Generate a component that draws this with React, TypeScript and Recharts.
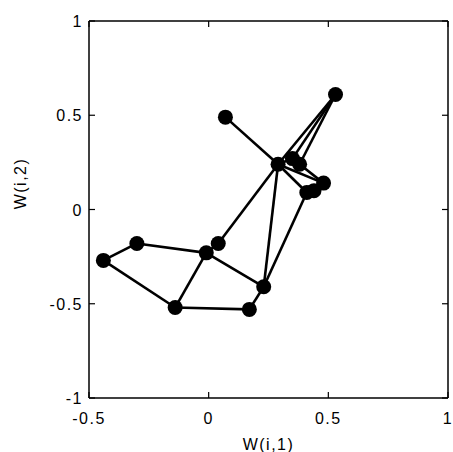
import { ScatterChart, Scatter, XAxis, YAxis, Label } from 'recharts';

// node coordinates W(i,1), W(i,2)
const nodeX = [0.53, 0.07, 0.29, 0.35, 0.38, 0.48, 0.41, 0.44, 0.04, -0.01, -0.3, -0.44, -0.14, 0.17, 0.23];
const nodeY = [0.61, 0.49, 0.24, 0.27, 0.24, 0.14, 0.09, 0.1, -0.18, -0.23, -0.18, -0.27, -0.52, -0.53, -0.41];

// edges as pairs of node indices
const edges = [
    [2, 1], [2, 0], [3, 0], [4, 0], [2, 3], [3, 4], [2, 5], [2, 6], [5, 6], [4, 5],
    [2, 8], [8, 9], [2, 14], [6, 14], [9, 14], [9, 10], [10, 11], [11, 12], [12, 9],
    [12, 13], [13, 14], [5, 7], [6, 7],
];

const xTicks = [-0.5, 0, 0.5, 1];
const yTicks = [-1, -0.5, 0, 0.5, 1];

const nodes = nodeX.map((x, i) => ({ x, y: nodeY[i] }));

const font = { fontFamily: 'Liberation Sans, Arial, sans-serif', fontSize: 16, letterSpacing: 1.5 };

const BottomTick = (props: any) => {
    const { x, y, payload } = props;
    return (
        <g>
            <line x1={x} y1={y} x2={x} y2={y - 6} stroke="#000" strokeWidth={1.2} />
            <text x={x} y={y + 26} textAnchor="middle" fill="#000" style={font}>
                {payload.value}
            </text>
        </g>
    );
};

const LeftTick = (props: any) => {
    const { x, y, payload } = props;
    return (
        <g>
            <line x1={x} y1={y} x2={x + 6} y2={y} stroke="#000" strokeWidth={1.2} />
            <text x={x - 6} y={y + 6} textAnchor="end" fill="#000" style={font}>
                {payload.value}
            </text>
        </g>
    );
};

const TopTick = (props: any) => {
    const { x, y } = props;
    return <line x1={x} y1={y} x2={x} y2={y + 6} stroke="#000" strokeWidth={1.2} />;
};

const RightTick = (props: any) => {
    const { x, y } = props;
    return <line x1={x} y1={y} x2={x - 6} y2={y} stroke="#000" strokeWidth={1.2} />;
};

const Dot = (props: any) => <circle cx={props.cx} cy={props.cy} r={7.5} fill="#000" />;
const NoDot = () => <g />;

export default function App() {
    return (
        <div style={{ position: 'absolute', left: 0, top: 0, background: '#fff' }}>
            <ScatterChart width={453} height={452} margin={{ top: 20, right: 4, bottom: 0, left: 0 }}>
                <XAxis
                    xAxisId="b"
                    type="number"
                    dataKey="x"
                    domain={[-0.5, 1]}
                    ticks={xTicks}
                    height={54}
                    tickSize={0}
                    tickMargin={0}
                    tick={<BottomTick />}
                    axisLine={{ stroke: '#000', strokeWidth: 1.5 }}
                    tickLine={false}
                    allowDataOverflow
                >
                    <Label value="W(i,1)" position="insideBottom" offset={2} fill="#000" style={font} />
                </XAxis>
                <XAxis
                    xAxisId="t"
                    orientation="top"
                    type="number"
                    dataKey="x"
                    domain={[-0.5, 1]}
                    ticks={xTicks}
                    height={1}
                    tickSize={0}
                    tickMargin={0}
                    tick={<TopTick />}
                    axisLine={{ stroke: '#000', strokeWidth: 1.5 }}
                    tickLine={false}
                    allowDataOverflow
                />
                <YAxis
                    yAxisId="l"
                    type="number"
                    dataKey="y"
                    domain={[-1, 1]}
                    ticks={yTicks}
                    width={89}
                    tickSize={0}
                    tickMargin={0}
                    tick={<LeftTick />}
                    axisLine={{ stroke: '#000', strokeWidth: 1.5 }}
                    tickLine={false}
                    allowDataOverflow
                >
                    <Label value="W(i,2)" angle={-90} position="insideLeft" offset={20} dy={-26} fill="#000" style={{ ...font, textAnchor: 'middle' }} />
                </YAxis>
                <YAxis
                    yAxisId="r"
                    orientation="right"
                    type="number"
                    dataKey="y"
                    domain={[-1, 1]}
                    ticks={yTicks}
                    width={1}
                    tickSize={0}
                    tickMargin={0}
                    tick={<RightTick />}
                    axisLine={{ stroke: '#000', strokeWidth: 1.5 }}
                    tickLine={false}
                    allowDataOverflow
                />
                {edges.map(([a, b], i) => (
                    <Scatter
                        key={'e' + i}
                        xAxisId="b"
                        yAxisId="l"
                        data={[nodes[a], nodes[b]]}
                        line={{ stroke: '#000', strokeWidth: 2.6 }}
                        shape={<NoDot />}
                        isAnimationActive={false}
                    />
                ))}
                <Scatter xAxisId="b" yAxisId="l" data={nodes} shape={<Dot />} isAnimationActive={false} />
            </ScatterChart>
        </div>
    );
}
